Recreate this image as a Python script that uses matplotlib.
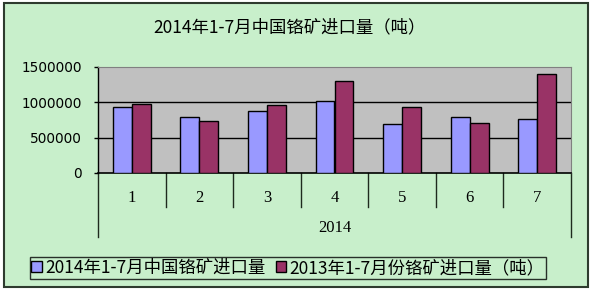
import matplotlib
matplotlib.use("Agg")
import matplotlib.pyplot as plt
from matplotlib.patches import Rectangle
import numpy as np

plt.rcParams['font.family'] = ['Noto Sans CJK SC', 'DejaVu Sans']

months = ["1", "2", "3", "4", "5", "6", "7"]
year_label = "2014"
imports_2014 = [930000, 788000, 877000, 1019000, 689000, 788000, 769000]
imports_2013 = [972000, 736000, 958000, 1302000, 930000, 708000, 1405000]
series_names = ["2014年1-7月中国铬矿进口量", "2013年1-7月份铬矿进口量（吨）"]
title = "2014年1-7月中国铬矿进口量（吨）"
yticks = [0, 500000, 1000000, 1500000]

W, H = 592, 292
fig = plt.figure(figsize=(W / 100, H / 100), dpi=100)
fig.patch.set_facecolor("white")

green = "#C8EFCB"
# chart area background with border
bg = Rectangle((4 / W, 1 - 287 / H), (588 - 4) / W, (287 - 3) / H,
               transform=fig.transFigure, facecolor=green,
               edgecolor="#2E3B2E", linewidth=1.5, zorder=-10)
fig.patches.append(bg)

left, right, top, bottom = 98, 571, 67, 173
ax = fig.add_axes([left / W, 1 - bottom / H, (right - left) / W, (bottom - top) / H])
ax.set_facecolor("#C0C0C0")

x = np.arange(len(months))
bw = 0.28
ax.bar(x - bw / 2, imports_2014, bw, color="#9999FF", edgecolor="black", linewidth=1.0,
       label=series_names[0], zorder=3)
ax.bar(x + bw / 2, imports_2013, bw, color="#993366", edgecolor="black", linewidth=1.0,
       label=series_names[1], zorder=3)

ax.set_xlim(-0.5, len(months) - 0.5)
ax.set_ylim(0, 1500000)
ax.set_yticks(yticks)
ax.set_yticklabels([str(v) for v in yticks], fontsize=9.8, family="DejaVu Sans")
for v in yticks[1:3]:
    ax.axhline(v, color="black", linewidth=1.0, zorder=1)
ax.tick_params(axis="y", length=3, width=1, color="black", pad=8.6)
ax.set_xticks([])

for s in ["top", "right"]:
    ax.spines[s].set_color("#808080")
    ax.spines[s].set_linewidth(0.8)
ax.spines["left"].set_linewidth(1.0)
ax.spines["bottom"].set_linewidth(1.2)

# category divider lines below axis
trans = ax.get_xaxis_transform()
ybot_small = -(207 - bottom) / (bottom - top)
ybot_big = -(237 - bottom) / (bottom - top)
for i in range(len(months) + 1):
    xb = i - 0.5
    yb = ybot_big if i in (0, len(months)) else ybot_small
    ax.plot([xb, xb], [0, yb], color="#1E2A1E", linewidth=1.0, transform=trans, clip_on=False)

ylab = -(198 - bottom) / (bottom - top)
for i, m in enumerate(months):
    ax.text(i, ylab, m, transform=trans, ha="center", va="center", fontsize=12,
            family=["Liberation Serif"])
ax.text((len(months) - 1) / 2, -(228 - bottom) / (bottom - top), year_label, transform=trans,
        ha="center", va="center", fontsize=12, family=["Liberation Serif"])

fig.text(290 / W, 1 - 27 / H, title, ha="center", va="center", fontsize=12.5)

leg = fig.legend(loc="center", bbox_to_anchor=(288 / W, 1 - 268 / H), ncol=2, fontsize=12.5,
                 frameon=True, fancybox=False, edgecolor="black", facecolor=green,
                 handlelength=0.6, handleheight=0.6, handletextpad=0.2, columnspacing=0.6,
                 borderpad=0.1, borderaxespad=0)
leg.get_frame().set_linewidth(1.0)

fig.savefig("out.png", dpi=100, facecolor=fig.get_facecolor())
